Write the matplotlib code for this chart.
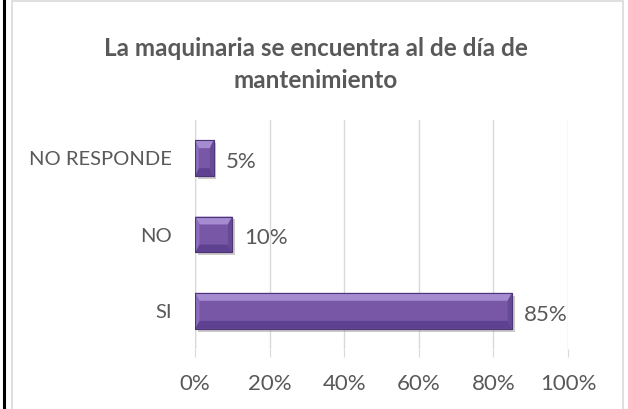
import numpy as np
import matplotlib
matplotlib.use("Agg")
import matplotlib.pyplot as plt
from matplotlib.patches import Polygon, Rectangle
from matplotlib.lines import Line2D
import matplotlib.patheffects as pe

plt.rcParams['font.family'] = ['Lato', 'DejaVu Sans']

# datos de la encuesta
categorias = ['SI', 'NO', 'NO RESPONDE']
porcentajes = [85, 10, 5]
etiquetas = ['85%', '10%', '5%']
ticks_x = [0, 20, 40, 60, 80, 100]

gris = '#595959'
morado = '#7858a6'
morado_osc = '#4f3578'
morado_claro = '#a58bd0'

fig = plt.figure(figsize=(6.28, 4.09), dpi=100)
fig.patch.set_facecolor('white')

# marco del grafico y linea negra a la izquierda
fig.add_artist(Rectangle((12 / 628, -0.01), 611 / 628, 1.0 - 1 / 409 + 0.01,
                         transform=fig.transFigure, fill=False,
                         edgecolor='#d9d9d9', linewidth=1.2))
fig.add_artist(Line2D([4 / 628, 4 / 628], [0, 1], transform=fig.transFigure,
                      color='black', linewidth=2.2))

ax = fig.add_axes([195 / 628, 1 - 349 / 409, 373 / 628, 229 / 409])

y = np.arange(len(categorias))
barras = ax.barh(y, porcentajes, height=0.47, color=morado,
                 edgecolor=morado_osc, linewidth=0.8, zorder=3)

# efecto de bisel y sombra en cada barra
for b in barras:
    b.set_path_effects([pe.SimplePatchShadow(offset=(2, -2), shadow_rgbFace='#999999', alpha=0.5),
                        pe.Normal()])
    x0, y0 = b.get_x(), b.get_y()
    w, h = b.get_width(), b.get_height()
    bx = min(1.2, w * 0.2)
    by = h * 0.22
    arriba = Polygon([(x0, y0 + h), (x0 + w, y0 + h), (x0 + w - bx, y0 + h - by), (x0 + bx, y0 + h - by)],
                     closed=True, facecolor=morado_claro, edgecolor='none', zorder=4)
    abajo = Polygon([(x0, y0), (x0 + w, y0), (x0 + w - bx, y0 + by), (x0 + bx, y0 + by)],
                    closed=True, facecolor='#5e4190', edgecolor='none', zorder=4)
    izq = Polygon([(x0, y0), (x0, y0 + h), (x0 + bx, y0 + h - by), (x0 + bx, y0 + by)],
                  closed=True, facecolor='#8c6cbc', edgecolor='none', zorder=4)
    der = Polygon([(x0 + w, y0), (x0 + w, y0 + h), (x0 + w - bx, y0 + h - by), (x0 + w - bx, y0 + by)],
                  closed=True, facecolor='#664a96', edgecolor='none', zorder=4)
    for p in (arriba, abajo, izq, der):
        ax.add_patch(p)
    ax.add_patch(Rectangle((x0, y0), w, h, fill=False, edgecolor=morado_osc, linewidth=0.8, zorder=5))

for yi, v, t in zip(y, porcentajes, etiquetas):
    ax.text(v + 3.2, yi - 0.05, t, va='center', ha='left', fontsize=16, color=gris)

ax.set_xlim(0, 100)
ax.set_ylim(-0.5, len(categorias) - 0.5)
ax.set_xticks(ticks_x)
ax.set_xticklabels([f'{t}%' for t in ticks_x], fontsize=16, color=gris)
ax.set_yticks(y)
ax.set_yticklabels(categorias, fontsize=14.5, color=gris)
ax.tick_params(axis='x', length=6, color='#d9d9d9', pad=12)
ax.tick_params(axis='y', length=0, pad=16.5)
ax.grid(axis='x', color='#d9d9d9', linewidth=1, zorder=0)
for s in ax.spines.values():
    s.set_visible(False)
ax.axvline(0, color='#d9d9d9', linewidth=1, zorder=1)

fig.text(316 / 628, 1 - 48 / 409, 'La maquinaria se encuentra al de día de',
         ha='center', va='center', fontsize=17.5, fontweight='bold', color=gris)
fig.text(316 / 628, 1 - 80 / 409, 'mantenimiento',
         ha='center', va='center', fontsize=17.5, fontweight='bold', color=gris)

fig.savefig('out.png', dpi=100)
